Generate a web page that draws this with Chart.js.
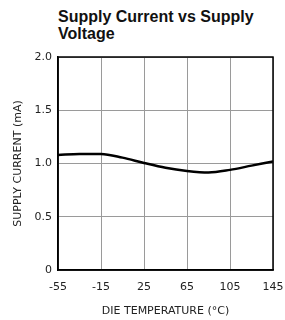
<!DOCTYPE html>
<html>
<head>
  <meta charset="utf-8">
  <title>Supply Current vs Supply Voltage</title>
  <script src="https://cdn.jsdelivr.net/npm/chart.js@4.4.0/dist/chart.umd.min.js"></script>
  <style>
    body { margin: 0; background: #fff; }
    .wrap { position: relative; width: 285px; height: 320px; }
    .title {
      position: absolute;
      left: 58px;
      top: 8px;
      width: 215px;
      font: bold 16px "Liberation Sans", Arial, sans-serif;
      line-height: 17px;
      color: #111;
    }
    .wrap canvas { position: absolute; top: 0; left: 0; }
  </style>
</head>
<body>
<div class="wrap">
  <div class="title">Supply Current vs Supply<br>Voltage</div>
  <canvas id="chart" width="285" height="320"></canvas>
</div>
<script>
  // die temperature (°C) and supply current (mA)
  var temps = [-55, -35, -15, 5, 25, 45, 65, 85, 105, 125, 145];
  var current = [1.08, 1.09, 1.09, 1.055, 1.005, 0.96, 0.93, 0.915, 0.94, 0.98, 1.02];
  var xTicks = [-55, -15, 25, 65, 105, 145];
  var yTickLabels = { 0: '0', 0.5: '0.5', 1: '1.0', 1.5: '1.5', 2: '2.0' };

  var tickFont = { family: 'DejaVu Sans', size: 11 };

  // black frame around the plot area
  var frame = {
    id: 'frame',
    afterDraw: function (chart) {
      var a = chart.chartArea, ctx = chart.ctx;
      ctx.save();
      ctx.strokeStyle = '#000';
      ctx.lineWidth = 1.5;
      ctx.strokeRect(a.left, a.top, a.right - a.left, a.bottom - a.top);
      ctx.restore();
    }
  };

  new Chart(document.getElementById('chart').getContext('2d'), {
    type: 'line',
    data: {
      datasets: [{
        data: temps.map(function (t, i) { return { x: t, y: current[i] }; }),
        borderColor: '#000',
        borderWidth: 2.5,
        pointRadius: 0,
        tension: 0.4,
        cubicInterpolationMode: 'monotone'
      }]
    },
    options: {
      responsive: false,
      animation: false,
      layout: { padding: { left: 12, right: 12, top: 57, bottom: 2 } },
      plugins: { legend: { display: false }, tooltip: { enabled: false } },
      scales: {
        x: {
          type: 'linear',
          min: -55,
          max: 145,
          afterBuildTicks: function (scale) {
            scale.ticks = xTicks.map(function (v) { return { value: v }; });
          },
          afterFit: function (scale) {
            scale.height = 48;
            scale.paddingLeft = 0;
            scale.paddingRight = 0;
          },
          grid: { color: '#9a9a9a', lineWidth: 1, drawTicks: false },
          border: { color: '#000', width: 1.5 },
          ticks: { font: tickFont, color: '#222', padding: 11, maxRotation: 0 },
          title: {
            display: true,
            text: 'DIE TEMPERATURE (°C)',
            font: tickFont,
            color: '#222',
            padding: 0
          }
        },
        y: {
          min: 0,
          max: 2,
          afterFit: function (scale) {
            scale.width = 46;
            scale.paddingTop = 0;
            scale.paddingBottom = 0;
          },
          grid: { color: '#9a9a9a', lineWidth: 1, drawTicks: false },
          border: { color: '#000', width: 1.5 },
          ticks: {
            stepSize: 0.5,
            font: tickFont,
            color: '#222',
            padding: 6,
            callback: function (v) { return yTickLabels[v]; }
          },
          title: {
            display: true,
            text: 'SUPPLY CURRENT (mA)',
            font: tickFont,
            color: '#222',
            padding: 0
          }
        }
      }
    },
    plugins: [frame]
  });
</script>
</body>
</html>
